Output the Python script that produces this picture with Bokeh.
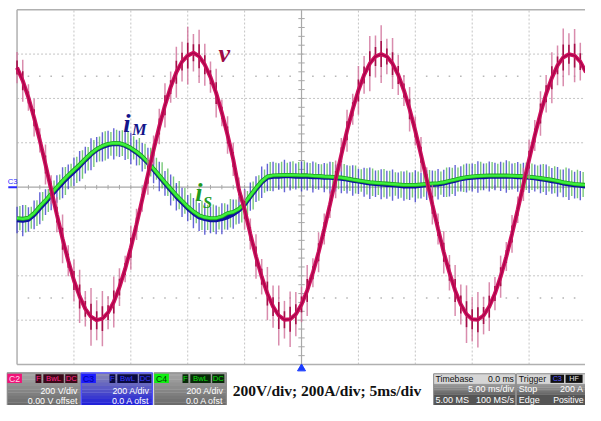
import numpy as np
from bokeh.plotting import figure
from bokeh.models import Range1d, ColumnDataSource
from bokeh.core.properties import value
from bokeh.embed import file_html
from bokeh.resources import INLINE

# ---------------- data ----------------
STEP_MS = 0.5          # sample spacing of the lists below, ms
MS_PER_DIV = 5
VOLT_PER_DIV = 200
AMP_PER_DIV = 200

# v : grid voltage, V
V_VOLTS = [539, 480, 404, 313, 211, 102, -12, -124, -233, -332,
           -421, -493, -549, -585, -600, -593, -566, -518, -451, -369,
           -273, -168, -56, 56, 168, 273, 369, 451, 518, 566,
           593, 606, 590, 552, 496, 424, 335, 235, 125, -12,
           -102, -211, -313, -404, -480, -539, -579, -598, -596, -573,
           -529, -466, -386, -294, -189, -79, 35, 146, 254, 351,
           436, 506, 557, 589, 600, 589, 557, 506, 436, 351,
           253, 146, 35, -79, -189, -294, -386, -466, -529, -573,
           -596, -598, -579, -539, -480, -404, -313, -211, -102, 12,
           124, 233, 332, 421, 493, 549, 585, 599, 593, 566,
           518]
# half height of the switching spikes on v, V
V_RIPPLE = [70, 95, 60, 85, 55, 90, 65, 80, 110, 70,
            95, 120, 80, 130, 90, 125, 75, 115, 85, 60,
            100, 70, 55, 90, 65, 80, 100, 70, 115, 90,
            130, 85, 120, 95, 70, 110, 60, 85, 75, 55,
            90, 70, 100, 80, 120, 95, 135, 85, 125, 100,
            80, 115, 65, 90, 70, 60, 85, 75, 95, 70,
            110, 85, 125, 95, 130, 80, 115, 90, 70, 100,
            65, 80, 55, 90, 70, 95, 80, 115, 90, 130,
            100, 125, 85, 110, 75, 95, 65, 85, 60, 75,
            90, 70, 100, 85, 115, 90, 130, 95, 120, 85,
            105]
# i_M : main current, A
IM_AMPS = [-148, -151, -146, -125, -95, -68, -38, -8, 20, 46,
           70, 95, 122, 148, 169, 182, 191, 195, 195, 187,
           174, 156, 135, 109, 78, 48, 17, -13, -43, -69,
           -95, -117, -135, -143, -148, -148, -143, -135, -122, -104,
           -78, -43, -9, 22, 43, 48, 48, 50, 50, 48,
           48, 48, 46, 46, 43, 43, 41, 39, 35, 30,
           26, 22, 17, 15, 13, 11, 9, 7, 4, 4,
           4, 7, 9, 11, 13, 17, 24, 30, 37, 41,
           43, 46, 46, 48, 48, 48, 48, 48, 46, 46,
           43, 41, 37, 33, 28, 24, 17, 13, 9, 7,
           4]
IM_RIPPLE = [60, 70, 55, 65, 72, 58, 66, 62, 70, 56,
             64, 68, 60, 72, 57, 66, 63, 70, 59, 65,
             71, 58, 64, 69, 61, 67, 56, 70, 62, 66,
             59, 68, 63, 72, 60, 65, 70, 57, 66, 61,
             69, 64, 58, 71, 62, 67, 60, 73, 65, 59,
             68, 63, 70, 58, 66, 72, 61, 67, 64, 69,
             57, 65, 71, 60, 68, 63, 70, 59, 66, 62,
             72, 58, 67, 64, 69, 61, 66, 70, 57, 65,
             63, 71, 60, 68, 62, 66, 73, 59, 67, 64,
             70, 61, 65, 69, 58, 67, 63, 71, 60, 66,
             64]
# i_S : secondary current, A
IS_AMPS = [-140, -143, -138, -117, -87, -60, -30, 0, 28, 54,
           78, 102, 128, 152, 172, 186, 195, 199, 198, 190,
           177, 160, 139, 113, 83, 53, 22, -7, -36, -62,
           -88, -110, -127, -136, -140, -140, -132, -118, -112, -98,
           -72, -38, -4, 27, 48, 53, 54, 55, 55, 54,
           53, 53, 51, 50, 48, 47, 45, 43, 39, 34,
           30, 26, 22, 20, 18, 16, 14, 12, 10, 10,
           10, 12, 14, 16, 18, 22, 28, 34, 40, 45,
           48, 50, 51, 52, 52, 52, 52, 51, 50, 49,
           47, 44, 41, 37, 33, 28, 22, 18, 14, 12,
           10]
IS_RIPPLE = [55, 62, 50, 58, 65, 52, 60, 57, 63, 51,
             59, 64, 53, 61, 56, 66, 54, 60, 58, 63,
             52, 61, 57, 65, 50, 59, 62, 55, 64, 58,
             60, 53, 66, 57, 62, 51, 59, 64, 56, 61,
             54, 63, 58, 52, 65, 57, 61, 55, 62, 59,
             64, 56, 60, 53, 58, 66, 55, 61, 57, 63,
             51, 59, 62, 56, 64, 58, 53, 60, 65, 57,
             61, 55, 63, 58, 52, 66, 59, 54, 62, 60,
             56, 64, 57, 61, 53, 59, 65, 58, 55, 62,
             60, 54, 63, 57, 61, 52, 66, 58, 64, 56,
             59]

T_MS = np.arange(len(V_VOLTS)) * STEP_MS

# ---------------- geometry of the scope screen (reference pixels) ----------------
REF_W, REF_H = 601, 421
X0_PX, PX_PER_XDIV = 17.0, 58.45
Y0_PX, PX_PER_YDIV = 194.0, 46.1

ms_lo = (0 - X0_PX) / PX_PER_XDIV * MS_PER_DIV
ms_hi = (REF_W - X0_PX) / PX_PER_XDIV * MS_PER_DIV
div_hi = Y0_PX / PX_PER_YDIV
div_lo = -(REF_H - Y0_PX) / PX_PER_YDIV

W, H = 585, 405

p = figure(width=W, height=H, output_backend="svg", toolbar_location=None,
           x_range=Range1d(ms_lo, ms_hi), y_range=Range1d(div_lo, div_hi),
           x_axis_location=None, y_axis_location=None, min_border=0)
p.grid.visible = False
p.outline_line_color = None
p.background_fill_color = "white"
p.border_fill_color = "white"
p.extra_x_ranges = {"px": Range1d(0, REF_W)}
p.extra_y_ranges = {"py": Range1d(REF_H, 0),
                    "V": Range1d(div_lo * VOLT_PER_DIV, div_hi * VOLT_PER_DIV),
                    "A": Range1d(div_lo * AMP_PER_DIV, div_hi * AMP_PER_DIV)}

FS = 0.965  # font scale (page is a little smaller than the photo)

def fpx(s):
    return f"{s * FS:.1f}px"

def txt(x, y, s, size, color, font="Liberation Sans", style="normal",
        align="left", baseline="middle"):
    p.text(x=[x], y=[y], text=[s], x_range_name="px", y_range_name="py",
           text_font=value(font), text_font_size=fpx(size), text_color=color,
           text_font_style=style, text_align=align, text_baseline=baseline)

# ---------------- graticule ----------------
GRID = "#c4c4c4"
xs_grid = [MS_PER_DIV * k for k in range(1, 10) if k != 5]
p.segment(x0=xs_grid, y0=[-4] * len(xs_grid), x1=xs_grid, y1=[4] * len(xs_grid),
          line_color=GRID, line_dash="2 2", line_width=1)
ys_grid = [k for k in range(-3, 4) if k != 0]
p.segment(x0=[0] * len(ys_grid), y0=ys_grid, x1=[50] * len(ys_grid), y1=ys_grid,
          line_color=GRID, line_dash="2 2", line_width=1)
# dotted rows at +-2.5 div
dot_x = [float(k) for k in range(1, 50) if k % 5 != 0]
for yy in (2.5, -2.5):
    p.scatter(x=dot_x, y=[yy] * len(dot_x), marker="square", size=1.6,
              fill_color="#b8b8b8", line_color=None)
# centre axes with minor ticks
CEN = "#a8a8a8"
p.segment(x0=[0, 25], y0=[0, -4], x1=[50, 25], y1=[0, 4], line_color=CEN, line_width=1.2)
tx = [float(k) for k in range(1, 50)]
p.segment(x0=tx, y0=[-0.05] * len(tx), x1=tx, y1=[0.05] * len(tx), line_color=CEN, line_width=1)
ty = [round(-4 + 0.2 * k, 2) for k in range(1, 40)]
p.segment(x0=[24.72] * len(ty), y0=ty, x1=[25.28] * len(ty), y1=ty, line_color=CEN, line_width=1)
# frame
FR = "#b0b0b0"
p.segment(x0=[0, 0, 0, 50], y0=[-4, 4, -4, -4], x1=[50, 50, 0, 50], y1=[-4, 4, 4, 4],
          line_color=FR, line_width=1.5)

# ---------------- traces ----------------
V = np.array(V_VOLTS, float); VR = np.array(V_RIPPLE, float)
IM = np.array(IM_AMPS, float); IMR = np.array(IM_RIPPLE, float)
IS = np.array(IS_AMPS, float); ISR = np.array(IS_RIPPLE, float)

src_m = ColumnDataSource(dict(t=T_MS, y=IM, lo=IM - IMR, hi=IM + IMR))
src_s = ColumnDataSource(dict(t=T_MS + STEP_MS / 2, y=IS, lo=IS - ISR, hi=IS + ISR))
src_v = ColumnDataSource(dict(t=T_MS, y=V, lo=V - VR, hi=V + VR,
                              lo2=V - VR * 0.45, hi2=V + VR * 0.45))

p.segment(x0="t", y0="lo", x1="t", y1="hi", source=src_m, y_range_name="A",
          line_color="#3030c8", line_alpha=0.75, line_width=1.4)
p.segment(x0="t", y0="lo", x1="t", y1="hi", source=src_s, y_range_name="A",
          line_color="#4cb84c", line_alpha=0.75, line_width=1.4)
p.line(x=T_MS, y=IM, y_range_name="A", line_color="#0c10a0", line_width=4.5)
p.line(x=T_MS, y=IS, y_range_name="A", line_color="#1ea01e", line_width=4)
p.line(x=T_MS, y=IS, y_range_name="A", line_color="#3cf03c", line_width=2.4)

p.segment(x0="t", y0="lo", x1="t", y1="hi", source=src_v, y_range_name="V",
          line_color="#cf6f98", line_alpha=0.8, line_width=1.5)
p.segment(x0="t", y0="lo2", x1="t", y1="hi2", source=src_v, y_range_name="V",
          line_color="#a0003e", line_alpha=0.9, line_width=1.6)
p.line(x=T_MS, y=V, y_range_name="V", line_color="#d0115f", line_width=4)
p.line(x=T_MS, y=V, y_range_name="V", line_color="#a8064a", line_width=1.4)

# trace labels
SER = "Liberation Serif"
txt(224, 55, "v", 27, "#9c0a44", SER, "bold italic", baseline="alphabetic")
txt(126, 128, "i", 27, "#14148a", SER, "bold italic", baseline="alphabetic")
txt(135, 134, "M", 17, "#14148a", SER, "bold italic", baseline="alphabetic")
txt(200, 200, "i", 27, "#1f9a1f", SER, "bold italic", baseline="alphabetic")
txt(208, 210, "S", 17, "#1f9a1f", SER, "bold italic", baseline="alphabetic")

# channel marker at left + trigger marker
p.segment(x0=[8], y0=[194], x1=[17], y1=[194], x_range_name="px", y_range_name="py",
          line_color="#2a2aff", line_width=2)
txt(7.5, 188.5, "C3", 8, "#2a2aff")
p.scatter(x=[25], y=[382.6], y_range_name="py", marker="triangle", size=8,
          fill_color="#1a3cff", line_color="#1a3cff")

# ---------------- status bar ----------------
def hexrgb(h):
    h = h.lstrip("#"); return tuple(int(h[i:i + 2], 16) for i in (0, 2, 4))

def grad(l, r, t, b, c1, c2, n=10):
    a, z = hexrgb(c1), hexrgb(c2)
    hs = (b - t) / n
    for i in range(n):
        f = i / (n - 1)
        c = "#%02x%02x%02x" % tuple(int(a[j] + (z[j] - a[j]) * f) for j in range(3))
        p.quad(left=[l], right=[r], top=[t + i * hs], bottom=[t + (i + 1) * hs + 0.3],
               x_range_name="px", y_range_name="py", fill_color=c, line_color=None)

def box(l, r, t, b, fill, line=None, lw=1):
    p.quad(left=[l], right=[r], top=[t], bottom=[b], x_range_name="px", y_range_name="py",
           fill_color=fill, line_color=line, line_width=lw)

def chan(l, r, tab, tabcol, tabtxt, tagbg, tagcol, g1, g2, border, l1, l2):
    grad(l, r, 387, 421, g1, g2)
    box(l, r, 387, 421, None, border, 1.2)
    box(l, l + 15, 388, 397.5, tabcol)
    txt(l + 7.5, 393, tab, 9, tabtxt, align="center")
    for (a, b_, s) in ((l + 29, l + 35, "F"), (l + 37, l + 58, "BwL"), (l + 59.5, l + 72, "DC")):
        box(a, b_, 388.5, 397.5, tagbg)
        txt((a + b_) / 2, 393, s, 8, tagcol, align="center")
    txt(r - 3, 406, l1, 9.2, "white", align="right")
    txt(r - 3, 416, l2, 9.2, "white", align="right")

chan(7, 82, "C2", "#f01478", "#ffd8ea", "#3a0818", "#ff2a88", "#a6a6a6", "#6c6c6c", "#8a8a8a",
     "200 V/div", "0.00 V offset")
chan(83, 156, "C3", "#1c1cff", "#0000a0", "#0a0a40", "#3a3aff", "#8a8ab4", "#2222d8", "#4a4aff",
     "200 A/div", "0.0 A ofst")
chan(158, 232, "C4", "#10f010", "#004000", "#082808", "#10e010", "#a6a6a6", "#6c6c6c", "#8a8a8a",
     "200 A/div", "0.0 A ofst")

txt(238.5, 405, "200V/div; 200A/div; 5ms/div", 16.1, "#111111", SER, "bold")

# timebase box
box(445, 529, 388, 398.5, "#d6d6d6")
grad(445, 529, 398.5, 409.5, "#9a9a9a", "#6a6a6a", 6)
box(445, 529, 409.5, 421, "#555555")
box(445, 529, 388, 421, None, "#8a8a8a", 1)
txt(447, 393.5, "Timebase", 9, "#111111")
txt(527.5, 393.5, "0.0 ms", 9, "#111111", align="right")
txt(527.5, 404, "5.00 ms/div", 9.3, "white", align="right")
txt(447, 415, "5.00 MS", 9.3, "white")
txt(527.5, 415, "100 MS/s", 9.3, "white", align="right")

# trigger box
box(530, 606, 388, 398.5, "#d6d6d6")
grad(530, 606, 398.5, 409.5, "#9a9a9a", "#6a6a6a", 6)
box(530, 606, 409.5, 421, "#555555")
box(530, 606, 388, 421, None, "#8a8a8a", 1)
txt(532.5, 393.5, "Trigger", 9, "#111111")
box(565, 579, 389, 397.5, "#101010")
txt(572, 393.3, "C3", 7.5, "#5a5aff", align="center")
box(580.5, 598, 389, 397.5, "#101010")
txt(589.2, 393.3, "HF", 7.5, "#e8e8e8", align="center")
txt(532.5, 404, "Stop", 9.3, "white")
txt(599, 404, "200 A", 9.3, "white", align="right")
txt(532.5, 415, "Edge", 9.3, "white")
txt(599, 415, "Positive", 9, "white", align="right")

open("out.html", "w").write(file_html(p, INLINE))
